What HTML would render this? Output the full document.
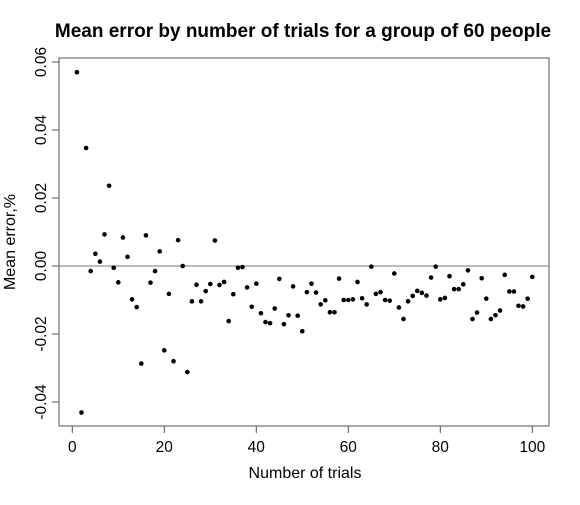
<!DOCTYPE html>
<html><head><meta charset="utf-8"><style>
body{margin:0;background:#fff;width:580px;height:500px;overflow:hidden}
text{font-family:"Liberation Sans",Arial,sans-serif}
</style></head><body>
<svg id="chart" width="580" height="500" xmlns="http://www.w3.org/2000/svg">
<text x="303" y="37" text-anchor="middle" font-size="19" font-weight="bold">Mean error by number of trials for a group of 60 people</text>
<rect x="59" y="58" width="490" height="368" fill="none" stroke="#555" stroke-width="1"/>
<g id="xaxis"></g>
<g id="yaxis"></g>
<line id="zero" x1="59" x2="549" stroke="#777" stroke-width="1"/>
<g id="pts"></g>
<text x="305" y="478" text-anchor="middle" font-size="16">Number of trials</text>
<text transform="translate(15,242) rotate(-90)" text-anchor="middle" font-size="16">Mean error,%</text>
</svg>
<script>
const xTicks=[0,20,40,60,80,100];
const yTicks=[-0.04,-0.02,0.00,0.02,0.04,0.06];
const yTickLabels=["-0.04","-0.02","0.00","0.02","0.04","0.06"];
const errors=[0.057,-0.0431,0.0347,-0.0015,0.0036,0.0013,0.0093,0.0236,-0.0005,-0.0048,
0.0084,0.0027,-0.0098,-0.0121,-0.0287,0.009,-0.0049,-0.0015,0.0043,-0.0248,
-0.0082,-0.028,0.0076,0,-0.0312,-0.0104,-0.0055,-0.0104,-0.0074,-0.0053,
0.0075,-0.0056,-0.0047,-0.0162,-0.0083,-0.0005,-0.0003,-0.0063,-0.012,-0.0052,
-0.0139,-0.0165,-0.0168,-0.0125,-0.0038,-0.0171,-0.0145,-0.006,-0.0146,-0.0192,
-0.0077,-0.0052,-0.0078,-0.0113,-0.0101,-0.0136,-0.0136,-0.0037,-0.01,-0.01,
-0.0098,-0.0047,-0.0095,-0.0113,-0.0002,-0.0082,-0.0077,-0.01,-0.0102,-0.0022,
-0.0122,-0.0156,-0.0104,-0.0088,-0.0073,-0.0079,-0.0087,-0.0034,-0.0002,-0.0098,
-0.0094,-0.003,-0.0068,-0.0068,-0.0054,-0.0013,-0.0156,-0.0137,-0.0036,-0.0096,
-0.0156,-0.0145,-0.0131,-0.0026,-0.0075,-0.0075,-0.0117,-0.0119,-0.0096,-0.0032];
const X=v=>72.3+v*4.6;
const Y=v=>266-v*3400;
const NS="http://www.w3.org/2000/svg";
function mk(t,a,p){const e=document.createElementNS(NS,t);for(const k in a)e.setAttribute(k,a[k]);p.appendChild(e);return e;}
const xa=document.getElementById('xaxis'),ya=document.getElementById('yaxis'),pts=document.getElementById('pts');
mk('line',{x1:X(0),x2:X(100),y1:426,y2:426,stroke:'#555'},xa);
xTicks.forEach(t=>{
  const l=mk('line',{x1:X(t),x2:X(t),y1:426,y2:433,stroke:'#555'},xa);
  
  
  const tx=mk('text',{x:X(t),y:452,'text-anchor':'middle','font-size':15.5},xa);tx.textContent=t;
  
  
});
yTicks.forEach((t,i)=>{
  const l=mk('line',{x1:52,x2:59,y1:Y(t),y2:Y(t),stroke:'#555'},ya);
  
  
  const tx=mk('text',{transform:`translate(46,${Y(t)}) rotate(-90)`,'text-anchor':'middle','font-size':15.5},ya);tx.textContent=yTickLabels[i];
  
  
});
const z=document.getElementById('zero');z.setAttribute('y1',Y(0));z.setAttribute('y2',Y(0));
errors.forEach((v,i)=>{
  const c=mk('circle',{cx:X(i+1),cy:Y(v),r:2.3,fill:'#000'},pts);
  
  
});
</script>
</body></html>
